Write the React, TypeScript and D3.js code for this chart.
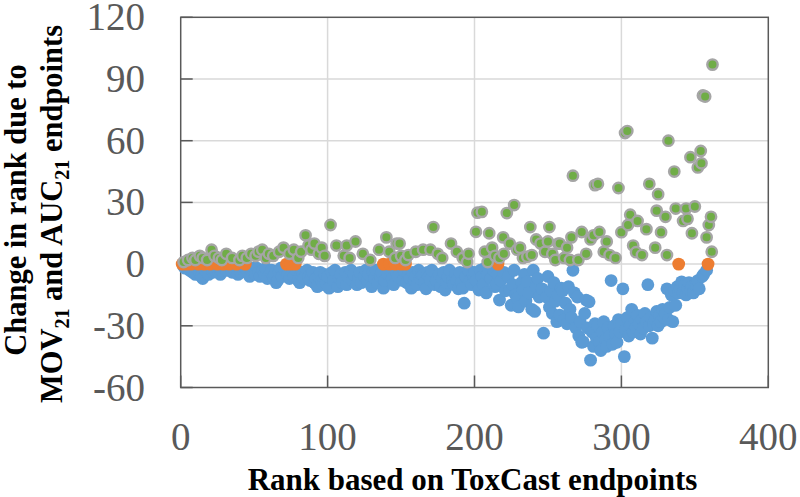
import React from "react";
import * as d3 from "d3";

const xTicks = [0, 100, 200, 300, 400];
const yTicks = [-60, -30, 0, 30, 60, 90, 120];

const blueRank = [
  2, 3, 5, 6, 8, 9, 10, 11, 13, 14, 15, 17, 18, 19, 22, 23, 25, 26, 27, 28, 30, 31, 34, 35, 36, 37, 39, 40, 41, 43, 44, 46, 47, 48, 49,
  50, 51, 52, 53, 54, 56, 57, 58, 59, 61, 62, 63, 64, 65, 66, 67, 68, 69, 71, 73, 74, 76, 77, 79, 80, 81, 82, 83, 84, 86, 87, 88, 89, 90, 91, 92, 93, 94, 95, 96, 97, 98, 99,
  100, 101, 103, 104, 105, 107, 108, 109, 110, 112, 113, 114, 116, 117, 118, 120, 121, 122, 123, 125, 126, 127, 128, 130, 131, 132, 133, 134, 136, 137, 138, 139, 141, 143, 144, 145, 147, 148, 151, 152, 154, 155, 156, 157, 158, 159, 160, 161, 162, 163, 164, 165, 166, 167, 168, 169, 170, 171, 173, 174, 176, 177, 178, 179, 180, 181, 182, 183, 185, 186, 187, 188, 189, 190, 191, 192, 193, 194, 196, 197, 198, 199,
  200, 201, 203, 204, 205, 206, 207, 208, 209, 211, 213, 214, 215, 216, 217, 218, 220, 221, 223, 224, 225, 226, 227, 228, 229, 230, 232, 233, 234, 235, 236, 237, 239, 240, 241, 242, 243, 244, 246, 247, 249, 250, 251, 252, 253, 254, 255, 256, 257, 258, 259,
  260, 261, 262, 263, 264, 265, 266, 267, 268, 269, 270, 271, 272, 273, 274, 275, 276, 277, 278, 279, 280, 281, 282, 283, 284, 285, 286, 287, 288, 289, 290, 291, 292, 293, 294, 295, 296, 297, 298, 299,
  300, 301, 302, 303, 304, 305, 306, 307, 308, 309, 310, 311, 312, 313, 314, 315, 316, 317, 318, 319, 320, 321, 322, 323, 324, 325, 326, 327, 328, 329, 330, 331, 332, 333, 334, 335, 336, 337, 338, 339,
  340, 341, 342, 343, 344, 345, 346, 347, 348, 349, 350, 351, 352, 353, 355, 356, 358,
];
const blueChange = [
  -1, -2, -2, -3, -4, -3, -5, -2, -4, -6, -7, -3, -2, -5, -4, -3, -2, -4, -5, -3, -2, -3, -1, -4, -2, -3, -5, -2, -4, -3, -2, -4, -6, -3, -2,
  -3, -5, -2, -4, -6, -3, -5, -2, -7, -4, -3, -6, -5, -9, -8, -4, -2, -6, -3, -5, -7, -4, -6, -3, -8, -9, -5, -4, -7, -3, -6, -8, -5, -4, -9, -7, -11, -6, -4, -8, -10, -5, -9,
  -6, -11.7, -4, -8, -3, -11, -7, -5, -9, -4, -10, -6, -3, -8, -5, -10, -7, -4, -9, -6, -3, -8, -5, -11, -4, -7, -3, -9, -6, -4, -11.7, -8, -5, -3, -7, -10, -4, -6, -8, -3, -9, -5, -7, -11.7, -4, -8, -6, -10, -3, -7, -5, -5.3, -9, -12, -4, -6, -7.8, -3, -10, -8, -5, -11, -7, -4, -12.6, -9, -6, -3, -8, -10, -5, -7.8, -12, -4, -9, -11.7, -19, -6, -3, -8, -10, -5,
  -4, -8, -12.6, -3, -6, -10, -2, -14, -5, -7, -3, -11, -9.5, -5, -17.5, -8, -4, -13, -6, -12.6, -20, -10, -3, -15, -16.5, -20.8, -9, -12.6, -5, -18, -8.6, -14, -22, -3, -23, -11, -7, -16, -12, -33.6, -16, -6, -21, -13, -24, -9, -18, -28, -15, -24.8, -11.7,
  -13, -27, -19, -29, -11, -22, -26, -3, -14, -31, -16, -35, -28, -38, -37.8, -24, -17.5, -31, -18.3, -46.7, -33, -40, -29, -36, -30, -38, -42, -33, -28, -37, -40, -31, -35, -8, -39, -30, -34, -38, -27, -33,
  -29, -12, -45, -32, -26, -35, -30, -22, -33, -28, -31, -25, -29, -34, -27, -31, -24, -28, -10, -30, -26, -36, -29, -27, -23, -30, -25, -28, -22, -26, -24, -12, -27, -21, -15, -28, -13, -20, -11, -14,
  -12, -8.6, -14, -10, -15, -12, -9, -13, -11, -14, -10, -10, -8, -12, -6, -5, -3,
];

const greenRank = [
  2, 5, 8, 10, 13, 15, 18, 21, 23, 26, 28, 31, 35, 40, 42, 45, 48,
  51, 53, 55.5, 58, 60, 63, 67, 70, 74, 77, 80, 82, 85, 87, 89, 91, 94, 96, 98,
  102, 106, 111, 113, 115, 119, 124, 129, 135, 140, 142, 146, 147, 149, 150, 153, 155, 160, 165, 170, 172, 175, 178, 184, 188, 192, 195, 196,
  201, 202, 205, 207, 209, 210, 212, 214, 217, 219.5, 220, 222, 224, 227, 229, 231, 233, 236, 238, 239, 242, 245, 248, 250, 251, 253, 255, 257,
  258, 261, 263, 265, 266, 267, 270.7, 273, 276, 279, 281, 282, 284, 285, 288, 290, 292, 296, 298, 300,
  302.5, 304, 304.5, 306, 308, 310, 311, 314, 317, 319, 323, 324, 325, 327, 330, 331, 332, 336, 337, 342, 344, 345, 347, 348, 350, 352, 354, 354.5, 355.5, 357, 358, 359.5, 361, 361.5, 362,
];
const greenChange = [
  1, 2, 3, 2, 4, 3, 2, 7, 4, 3, 2, 5, 3, 2, 4, 3, 5,
  4, 6, 7, 3, 5, 4, 6, 8, 5, 7, 3, 6, 14, 9, 7, 10, 5, 8, 4,
  19, 9, 4, 9, 3, 11, 5, 2, 7, 13, 6, 3, 10, 10, 4, 2, 4.4, 6, 7, 7, 18, 5, 3, 10, 6, 3, 1, 5,
  15.7, 25, 25.4, 6, 1, 15, 8, 4, 3, 13, 5, 24.8, 10, 28.7, 7, 8, 3, 3.6, 18, 4.4, 12, 10, 6, 11, 18, 5, 2, 10,
  10, 3, 8, 2, 13, 43, 2, 15.6, 5, 12, 14, 38.4, 39, 15.6, 6, 11, 4.4, 3, 37, 15.5,
  63.7, 64.7, 19, 24, 9, 5.8, 21, 4.4, 17, 39, 8, 26, 34, 15.5, 23, 4.4, 60, 45, 27, 21, 27, 22, 52, 15, 28, 47, 55, 49, 82, 81.5, 13, 19, 23, 6, 97,
];

const orangeRank = [1, 4, 7, 12, 16, 20, 25, 29, 33, 38, 44, 72, 75, 78, 138, 142, 146, 150, 153, 216, 339, 359];
const orangeChange = [0, 0, 0, 0, 0, 0, 0, 0, 0, 0, 0, 0, 0, 0, 0, 0, 0, 0, 0, 0, 0, 0];

const W = 800;
const H = 497;
const left = 180.7;
const right = 768.3;
const top = 17.3;
const bottom = 387.5;

export default function App() {
  const x = d3.scaleLinear().domain([0, 400]).range([left, right]);
  const y = d3.scaleLinear().domain([-60, 120]).range([bottom, top]);
  const axisColor = "#595959";
  const gridColor = "#d9d9d9";
  const serif = "'Liberation Serif', 'Times New Roman', serif";

  const blue = blueRank.map((r, i) => ({ r, v: blueChange[i] }));
  const green = greenRank.map((r, i) => ({ r, v: greenChange[i] }));
  const orange = orangeRank.map((r, i) => ({ r, v: orangeChange[i] }));

  return (
    <svg width={W} height={H} style={{ position: "absolute", left: 0, top: 0, background: "#fff" }}>
      <rect x={0} y={0} width={W} height={H} fill="#fff" />
      {yTicks
        .filter((t) => t !== -60 && t !== 120)
        .map((t) => (
          <line key={"gy" + t} x1={left} x2={right} y1={y(t)} y2={y(t)} stroke={gridColor} strokeWidth={1.5} />
        ))}
      {xTicks
        .filter((t) => t !== 0 && t !== 400)
        .map((t) => (
          <line key={"gx" + t} x1={x(t)} x2={x(t)} y1={top} y2={bottom} stroke={gridColor} strokeWidth={1.5} />
        ))}
      {yTicks.map((t) => (
        <line key={"ty" + t} x1={left} x2={left + 12} y1={y(t)} y2={y(t)} stroke={axisColor} strokeWidth={1.5} />
      ))}
      {xTicks.map((t) => (
        <line key={"tx" + t} x1={x(t)} x2={x(t)} y1={bottom} y2={bottom - 12} stroke={axisColor} strokeWidth={1.5} />
      ))}
      <rect x={left} y={top} width={right - left} height={bottom - top} fill="none" stroke={axisColor} strokeWidth={1.5} />

      <g>
        {blue.map((d, i) => (
          <circle key={"b" + i} cx={x(d.r)} cy={y(d.v)} r={6.4} fill="#5b9bd5" />
        ))}
      </g>
      <g>
        {orange.map((d, i) => (
          <circle key={"o" + i} cx={x(d.r)} cy={y(d.v)} r={6.4} fill="#ed7d31" />
        ))}
      </g>
      <g>
        {green.map((d, i) => (
          <circle key={"g" + i} cx={x(d.r)} cy={y(d.v)} r={5.2} fill="#70ad47" stroke="#a5a5a5" strokeWidth={2.4} />
        ))}
      </g>

      {yTicks.map((t) => (
        <text key={"ly" + t} x={145} y={y(t) + 13} textAnchor="end" fontFamily={serif} fontSize={39} fill="#595959">
          {t}
        </text>
      ))}
      {xTicks.map((t) => (
        <text key={"lx" + t} x={x(t)} y={450} textAnchor="middle" fontFamily={serif} fontSize={39} fill="#595959">
          {t}
        </text>
      ))}

      <text x={(left + right) / 2 - 2} y={490} textAnchor="middle" fontFamily={serif} fontWeight="bold" fontSize={31} fill="#000">
        Rank based on ToxCast endpoints
      </text>
      <text transform="translate(26,210) rotate(-90)" textAnchor="middle" fontFamily={serif} fontWeight="bold" fontSize={30.5} fill="#000">
        Change in rank due to
      </text>
      <text transform="translate(62,214) rotate(-90)" textAnchor="middle" fontFamily={serif} fontWeight="bold" fontSize={30.5} fill="#000">
        MOV<tspan fontSize={20} dy={7}>21</tspan>
        <tspan dy={-7}> and AUC</tspan>
        <tspan fontSize={20} dy={7}>21</tspan>
        <tspan dy={-7}> endpoints</tspan>
      </text>
    </svg>
  );
}
